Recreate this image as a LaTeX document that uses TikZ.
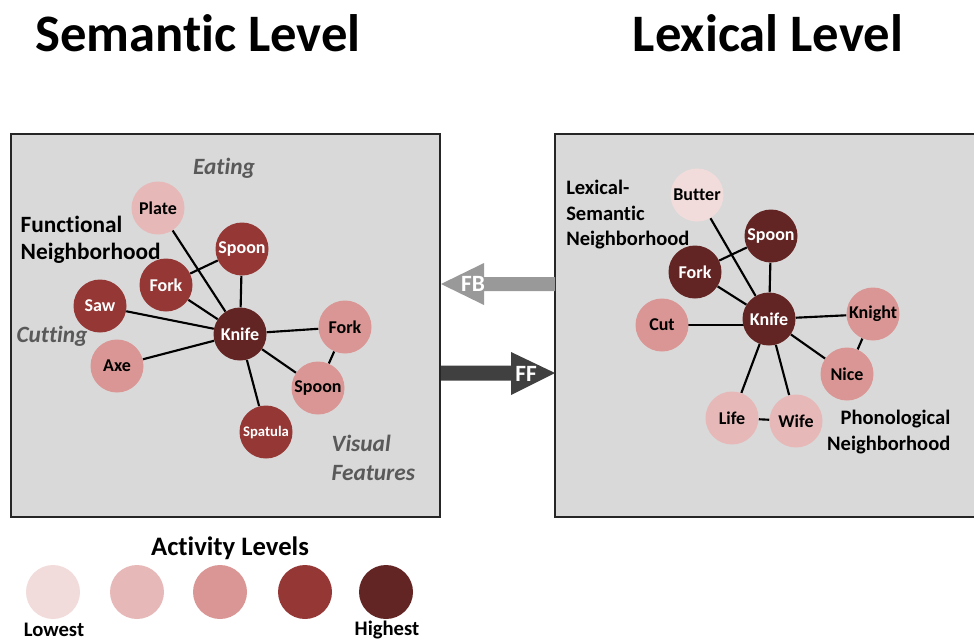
\documentclass[tikz,border=0pt]{standalone}
\usepackage{fontspec}
\setmainfont{Carlito}[Ligatures={NoCommon}]
\pgfdeclarelayer{panels}
\pgfdeclarelayer{edges}
\pgfsetlayers{panels,edges,main}
\definecolor{lvA}{HTML}{F2DCDB}
\definecolor{lvB}{HTML}{E6B9B8}
\definecolor{lvC}{HTML}{D99694}
\definecolor{lvD}{HTML}{953735}
\definecolor{lvE}{HTML}{632523}
\definecolor{panel}{HTML}{D9D9D9}
\definecolor{cue}{HTML}{595959}
\tikzset{
  word/.style={circle,minimum size=53*0.75pt,inner sep=0pt,font=\bfseries\fontsize{13.5}{14}\selectfont},
  w1/.style={word,fill=lvA,text=black},
  w2/.style={word,fill=lvB,text=black},
  w3/.style={word,fill=lvC,text=black},
  w4/.style={word,fill=lvD,text=white},
  w5/.style={word,fill=lvE,text=white},
  link/.style={line width=1.6pt,black},
  levelbox/.style={draw=black!85,line width=1.5pt,fill=panel},
  title/.style={font=\bfseries\fontsize{39.5}{42}\selectfont},
  hood/.style={font=\bfseries\fontsize{15.4}{19}\selectfont,align=left},
  cuetext/.style={text=cue,font=\bfseries\itshape\fontsize{17.5}{22}\selectfont},
  swatch/.style={circle,minimum size=54*0.75pt,inner sep=0pt},
  legendtext/.style={font=\bfseries\fontsize{15.5}{17}\selectfont},
  flowlabel/.style={text=white,font=\bfseries\fontsize{17.5}{18}\selectfont},
}
\begin{document}
\begin{tikzpicture}[x=0.75pt,y=-0.75pt]
\useasboundingbox (0,0) rectangle (974,640);

% titles
\node[title] (semtitle) at (198,33) {Semantic Level};
\node[title] (lextitle) at (768,33) {Lexical Level};

% panels
\begin{pgfonlayer}{panels}
\path[levelbox] (11,134) rectangle (440,517);
\path[levelbox] (555,134) rectangle (985,517);
\end{pgfonlayer}

% ---- semantic network ----
\node[w2] (plate) at (158,208) {Plate};
\node[w4] (sspoon) at (242,249) {Spoon};
\node[w4] (sfork) at (166,285) {Fork};
\node[w4] (saw) at (100,306) {Saw};
\node[w5] (sknife) at (240,334) {Knife};
\node[w3] (vfork) at (345,327) {Fork};
\node[w3] (axe) at (117,366) {Axe};
\node[w3] (vspoon) at (318,388) {Spoon};
\node[w4,font=\bfseries\fontsize{11}{12}\selectfont] (spatula) at (266,432) {Spatula};

\begin{pgfonlayer}{edges}
\draw[link] (plate) -- (sknife);
\draw[link] (sfork) -- (sspoon);
\draw[link] (sspoon) -- (sknife);
\draw[link] (sfork) -- (sknife);
\draw[link] (saw) -- (sknife);
\draw[link] (axe) -- (sknife);
\draw[link] (sknife) -- (vfork);
\draw[link] (sknife) -- (vspoon);
\draw[link] (vfork) -- (vspoon);
\draw[link] (sknife) -- (spatula);
\end{pgfonlayer}

\node[cuetext] (eating) at (224,168) {Eating};
\node[cuetext] (cutting) at (52,336) {Cutting};
\node[cuetext,align=left,anchor=west,font=\bfseries\itshape\fontsize{17.5}{21.5}\selectfont] (visual) at (327,458) {Visual\\Features};
\node[hood,anchor=west,font=\bfseries\fontsize{17.5}{20}\selectfont] (functional) at (16,240) {Functional\\Neighborhood};

% ---- lexical network ----
\node[w1] (butter) at (697,195) {Butter};
\node[w5] (lspoon) at (771,236) {Spoon};
\node[w5] (lfork) at (695,272) {Fork};
\node[w3] (cut) at (662,325) {Cut};
\node[w5] (lknife) at (769,319) {Knife};
\node[w3] (knight) at (873,314) {Knight};
\node[w3] (nice) at (847,374) {Nice};
\node[w2] (life) at (732,418) {Life};
\node[w2] (wife) at (796,421) {Wife};

\begin{pgfonlayer}{edges}
\draw[link] (butter) -- (lknife);
\draw[link] (lfork) -- (lspoon);
\draw[link] (lspoon) -- (lknife);
\draw[link] (lfork) -- (lknife);
\draw[link] (cut.center) -- (cut -| lknife);
\draw[link] (lknife) -- (knight);
\draw[link] (knight) -- (nice);
\draw[link] (lknife) -- (nice);
\draw[link] (lknife) -- (life);
\draw[link] (lknife) -- (wife);
\draw[link] (life) -- (wife);
\end{pgfonlayer}

\node[hood,anchor=north west,inner sep=0pt] (lexsem) at (566,180) {Lexical-\\Semantic\\Neighborhood};
\node[hood,anchor=east,align=right] (phono) at (955,432) {Phonological\\Neighborhood};

% ---- feedback / feedforward arrows ----
\coordinate (fbstart) at (555,284);
\coordinate (fbend) at (441,284);
\coordinate (ffstart) at (441,373);
\coordinate (ffend) at (555,373);
\fill[black!40] (fbstart) ++(0,-7) -- ++(-71,0) -- ++(0,-14) -- (fbend) -- (484,305) -- (484,291) -- (555,291) -- cycle;
\fill[black!75] (ffstart) ++(0,-7.5) -- (511,365.5) -- (511,352) -- (ffend) -- (511,395) -- (511,380.5) -- (441,380.5) -- cycle;
\node[flowlabel] (fb) at (473,284) {FB};
\node[flowlabel] (ff) at (526,374) {FF};

% ---- legend ----
\node[font=\bfseries\fontsize{20}{22}\selectfont] (acttitle) at (230,548) {Activity Levels};
\node[swatch,fill=lvA] (s1) at (53,592) {};
\node[swatch,fill=lvB] (s2) at (137,592) {};
\node[swatch,fill=lvC] (s3) at (220,592) {};
\node[swatch,fill=lvD] (s4) at (305,592) {};
\node[swatch,fill=lvE] (s5) at (386,592) {};
\node[legendtext] (lowest) at (54,630) {Lowest};
\node[legendtext] (highest) at (387,630) {Highest};
\end{tikzpicture}
\end{document}
